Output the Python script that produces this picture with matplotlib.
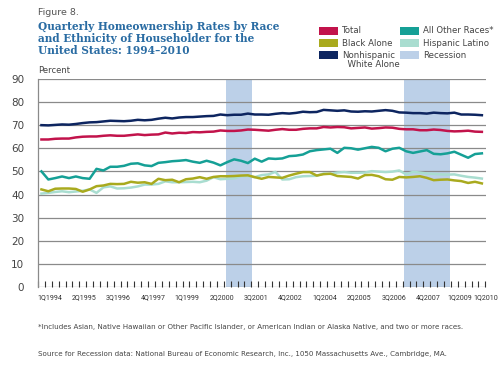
import numpy as np
import matplotlib
matplotlib.use("Agg")
import matplotlib.pyplot as plt
from matplotlib.patches import Rectangle

# quarterly homeownership rates, 1Q1994 .. 1Q2010
total = [63.8, 63.8, 64.1, 64.2, 64.2, 64.7, 65.0, 65.1, 65.1, 65.4, 65.6, 65.4,
         65.4, 65.7, 66.0, 65.7, 65.9, 66.0, 66.8, 66.4, 66.7, 66.6, 67.0, 66.9,
         67.1, 67.2, 67.7, 67.5, 67.5, 67.7, 68.1, 68.0, 67.8, 67.6, 68.0, 68.3,
         68.0, 68.0, 68.4, 68.6, 68.6, 69.2, 69.0, 69.2, 69.1, 68.6, 68.8, 69.0,
         68.5, 68.7, 69.0, 68.9, 68.4, 68.2, 68.2, 67.8, 67.8, 68.1, 67.9, 67.5,
         67.3, 67.4, 67.6, 67.2, 67.1]
white = [70.0, 69.9, 70.1, 70.3, 70.2, 70.5, 70.9, 71.2, 71.3, 71.6, 71.9, 71.8,
         71.7, 71.9, 72.3, 72.1, 72.3, 72.8, 73.2, 72.9, 73.3, 73.5, 73.5, 73.7,
         73.9, 74.0, 74.6, 74.3, 74.5, 74.5, 75.0, 74.6, 74.6, 74.5, 74.9, 75.2,
         75.0, 75.3, 75.8, 75.6, 75.7, 76.6, 76.4, 76.2, 76.4, 75.9, 75.8, 76.0,
         75.9, 76.2, 76.5, 76.2, 75.5, 75.4, 75.2, 75.2, 75.0, 75.4, 75.2, 75.1,
         75.4, 74.6, 74.6, 74.5, 74.3]
other = [50.0, 46.5, 47.1, 47.8, 47.1, 47.8, 47.1, 46.8, 51.1, 50.4, 52.0, 52.0,
         52.4, 53.3, 53.5, 52.6, 52.3, 53.7, 54.0, 54.4, 54.6, 54.9, 54.2, 53.7,
         54.6, 53.8, 52.6, 54.0, 55.2, 54.6, 53.6, 55.5, 54.2, 55.6, 55.4, 55.6,
         56.6, 56.8, 57.3, 58.7, 59.2, 59.5, 59.8, 58.0, 60.2, 60.0, 59.4, 60.0,
         60.6, 60.2, 58.7, 59.8, 60.2, 58.7, 58.0, 58.6, 59.2, 57.6, 57.4, 57.8,
         58.5, 57.2, 55.9, 57.5, 57.8]
black = [42.2, 41.4, 42.5, 42.6, 42.6, 42.4, 41.2, 42.2, 43.6, 43.9, 44.6, 44.5,
         44.6, 45.5, 45.1, 45.3, 44.6, 46.8, 46.2, 46.4, 45.3, 46.6, 46.9, 47.5,
         46.8, 47.6, 47.9, 47.9, 48.0, 48.2, 48.3, 47.5, 46.8, 47.6, 47.4, 47.2,
         48.2, 49.0, 49.7, 49.7, 48.2, 48.8, 49.0, 48.0, 47.8, 47.6, 46.9, 48.4,
         48.5, 47.9, 46.6, 46.4, 47.6, 47.4, 47.6, 47.9, 47.2, 46.2, 46.4, 46.5,
         46.1, 45.8, 45.0, 45.5, 44.8]
hispanic = [40.4, 40.7, 41.1, 41.4, 41.0, 41.3, 41.6, 42.2, 40.7, 43.1, 43.5, 42.6,
            42.7, 43.0, 43.5, 44.3, 44.3, 44.6, 45.7, 45.3, 45.3, 45.4, 45.5, 45.3,
            46.0, 47.5, 46.6, 46.8, 47.0, 47.9, 48.0, 47.5, 48.4, 48.7, 49.8, 46.5,
            46.6, 47.5, 47.9, 48.0, 48.1, 49.1, 48.9, 49.5, 49.7, 49.4, 49.4, 49.5,
            50.1, 49.9, 49.7, 49.9, 50.4, 48.7, 49.8, 49.5, 49.1, 48.9, 48.7, 48.6,
            48.7, 48.1, 47.6, 47.3, 46.9]

tick_idx = [0, 5, 10, 15, 20, 25, 30, 35, 40, 45, 50, 55, 60, 64]
tick_labels = ["1Q1994", "2Q1995", "3Q1996", "4Q1997", "1Q1999", "2Q2000", "3Q2001",
               "4Q2002", "1Q2004", "2Q2005", "3Q2006", "4Q2007", "1Q2009", "1Q2010"]

# recession bands in quarter index units
rec_start = [26.8, 52.7]
rec_end = [30.6, 59.4]

c_total = "#c2134b"
c_black = "#a9aa1e"
c_white = "#0d2560"
c_other = "#15a096"
c_hisp = "#a9ddd0"
c_rec = "#bcd0e8"

x = np.arange(len(total))

fig = plt.figure(figsize=(5.0, 3.67), dpi=100)
ax = fig.add_axes([0.076, 0.218, 0.896, 0.567])

for s, e in zip(rec_start, rec_end):
    ax.axvspan(s, e, color=c_rec, lw=0, zorder=0)

for v in range(0, 100, 10):
    ax.axhline(v, color="#8a8a8a", lw=0.9, zorder=1)

ax.plot(x, total, color=c_total, lw=1.8, zorder=3)
ax.plot(x, white, color=c_white, lw=1.8, zorder=3)
ax.plot(x, other, color=c_other, lw=1.8, zorder=3)
ax.plot(x, hispanic, color=c_hisp, lw=1.8, zorder=3)
ax.plot(x, black, color=c_black, lw=1.8, zorder=4)

ax.set_xlim(-0.5, len(total) - 0.5)
ax.set_ylim(0, 90)
ax.set_yticks(range(0, 100, 10))
ax.tick_params(axis="y", length=0, labelsize=7.5, labelcolor="#444444", pad=10)

# labels sit a little right of their quarter; the last two are squeezed in
lab_pos = [i + 1.2 for i in tick_idx[:-2]] + [60.8, 64.6]
ax.set_xticks(np.arange(-0.5, len(total), 1.0), minor=True)
ax.set_xticks(lab_pos)
ax.set_xticklabels(tick_labels, family="Roboto")
ax.tick_params(axis="x", which="major", length=0, labelsize=5.1, labelcolor="#333333", pad=5)
ax.tick_params(axis="x", which="minor", length=4, direction="in", color="#333333", width=0.8)
for t in ax.xaxis.get_minorticklines():
    t.set_zorder(5)

for sp in ["top", "right", "bottom"]:
    ax.spines[sp].set_visible(False)
ax.spines["left"].set_color("#8a8a8a")
ax.spines["left"].set_linewidth(0.9)

# titles
fig.text(0.076, 0.965, "Figure 8.", fontsize=6.8, color="#555555", va="center")
fig.text(0.076, 0.896, "Quarterly Homeownership Rates by Race\nand Ethnicity of Householder for the\nUnited States: 1994\u20132010",
         fontsize=7.6, fontweight="bold", color="#2a6ca3", family="DejaVu Serif",
         va="center", linespacing=1.12)
fig.text(0.076, 0.809, "Percent", fontsize=6.0, color="#444444", va="center")

# legend, drawn by hand
leg = [("Total", c_total, 0.638, 0.916),
       ("Black Alone", c_black, 0.638, 0.883),
       ("Nonhispanic\n  White Alone", c_white, 0.638, 0.850),
       ("All Other Races*", c_other, 0.800, 0.916),
       ("Hispanic Latino", c_hisp, 0.800, 0.883),
       ("Recession", c_rec, 0.800, 0.850)]
for name, col, lx, ly in leg:
    fig.patches.append(Rectangle((lx, ly - 0.011), 0.038, 0.022, transform=fig.transFigure,
                                 facecolor=col, edgecolor="none"))
    fig.text(lx + 0.046, ly + 0.012, name, fontsize=6.2, color="#444444", va="top",
             linespacing=1.1)

fig.text(0.076, 0.109, "*Includes Asian, Native Hawaiian or Other Pacific Islander, or American Indian or Alaska Native, and two or more races.",
         fontsize=5.15, color="#444444", va="center")
fig.text(0.076, 0.035, "Source for Recession data: National Bureau of Economic Research, Inc., 1050 Massachusetts Ave., Cambridge, MA.",
         fontsize=5.15, color="#444444", va="center")

fig.savefig("out.png", dpi=100, facecolor="white")
